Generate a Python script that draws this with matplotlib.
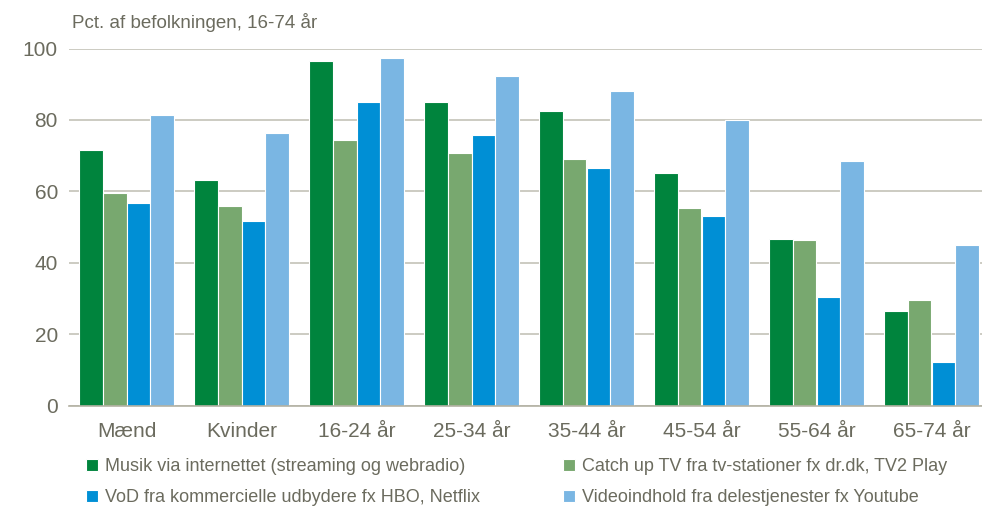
import numpy as np
import matplotlib.pyplot as plt

plt.rcParams['font.family'] = ['Liberation Sans', 'DejaVu Sans']

categories = ['Mænd', 'Kvinder', '16-24 år', '25-34 år', '35-44 år',
              '45-54 år', '55-64 år', '65-74 år']
musik = [71.5, 63.2, 96.6, 85.1, 82.6, 65.2, 46.6, 26.4]
catchup = [59.6, 55.9, 74.4, 70.8, 69.1, 55.3, 46.3, 29.5]
vod = [56.7, 51.7, 85.1, 75.8, 66.6, 53.1, 30.3, 12.1]
video = [81.5, 76.4, 97.2, 92.4, 88.2, 80.1, 68.5, 44.9]

series = [
    ('Musik via internettet (streaming og webradio)', musik, '#00843d'),
    ('Catch up TV fra tv-stationer fx dr.dk, TV2 Play', catchup, '#78a86f'),
    ('VoD fra kommercielle udbydere fx HBO, Netflix', vod, '#008fd5'),
    ('Videoindhold fra delestjenester fx Youtube', video, '#7ab6e3'),
]

txt = '#6b6b5e'
grid = '#c3c2b8'

fig = plt.figure(figsize=(9.82, 5.08), dpi=100)
ax = fig.add_axes([69 / 982, 1 - 405.5 / 508, 920 / 982, 357 / 508])

x = np.arange(len(categories))
w = 0.207
handles = []
for i, (name, vals, col) in enumerate(series):
    b = ax.bar(x + (i - 1.5) * w, vals, w, color=col, edgecolor='white',
               linewidth=0.8, label=name, zorder=3)
    handles.append(b)

ax.set_xlim(-0.5, len(categories) - 0.5)
ax.set_ylim(0, 100)
ax.set_yticks(range(0, 101, 20))
ax.yaxis.grid(True, color=grid, linewidth=1.2, zorder=0)
ax.set_xticks(x)
ax.set_xticklabels(categories)
ax.tick_params(axis='both', length=0, labelsize=15, colors=txt)
ax.tick_params(axis='y', pad=8)
ax.tick_params(axis='x', pad=12)
for s in ['top', 'right', 'left']:
    ax.spines[s].set_visible(False)
ax.spines['bottom'].set_color('#b3b1a3')
ax.spines['bottom'].set_linewidth(1.2)
ax.spines['bottom'].set_zorder(4)

fig.text(72 / 982, 1 - 22 / 508, 'Pct. af befolkningen, 16-74 år',
         fontsize=13.5, color=txt, va='center', ha='left')

leg_kw = dict(frameon=False, fontsize=13, handlelength=0.65, handleheight=0.65,
              handletextpad=0.4, labelspacing=0.78, labelcolor=txt,
              borderaxespad=0, borderpad=0)
l1 = fig.legend([handles[0], handles[2]], [series[0][0], series[2][0]],
                loc='upper left', bbox_to_anchor=(86 / 982, 1 - 458 / 508), **leg_kw)
l2 = fig.legend([handles[1], handles[3]], [series[1][0], series[3][0]],
                loc='upper left', bbox_to_anchor=(563 / 982, 1 - 458 / 508), **leg_kw)

fig.savefig('out.png', dpi=100)
